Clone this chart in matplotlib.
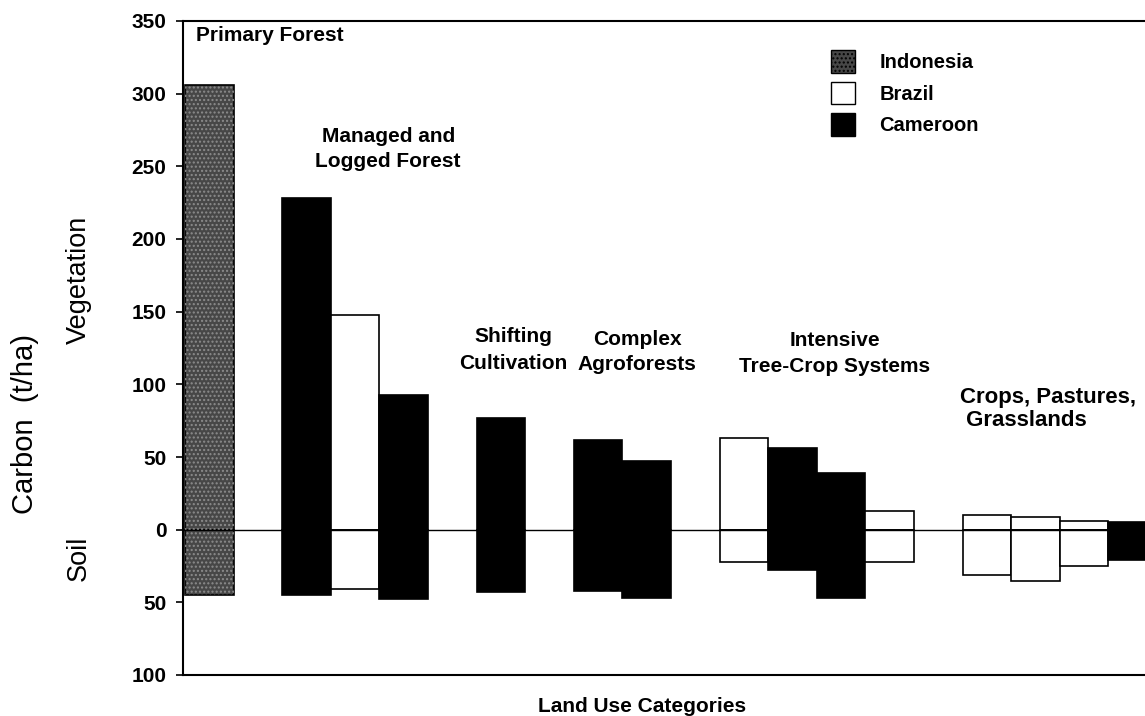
import numpy as np
import matplotlib.pyplot as plt
from matplotlib.patches import Patch

plt.rcParams['font.family'] = ['Liberation Sans', 'DejaVu Sans']

# land use groups and how many bars each one holds
groups = ['Primary Forest', 'Managed and\nLogged Forest', 'Shifting\nCultivation',
          'Complex\nAgroforests', 'Intensive\nTree-Crop Systems', 'Crops, Pastures,\n Grasslands']
group_sizes = [1, 3, 1, 2, 4, 4]

# one entry per bar, left to right
country = ['Indonesia',
           'Cameroon', 'Brazil', 'Cameroon',
           'Cameroon',
           'Cameroon', 'Cameroon',
           'Brazil', 'Cameroon', 'Cameroon', 'Brazil',
           'Brazil', 'Brazil', 'Brazil', 'Cameroon']
vegetation = [306, 228, 148, 93, 77, 62, 47, 63, 56, 39, 13, 10, 9, 6, 5]
soil = [45, 45, 41, 48, 43, 42, 47, 22, 28, 47, 22, 31, 35, 25, 21]

legend_names = ['Indonesia', 'Brazil', 'Cameroon']
colors = {'Indonesia': '#474747', 'Brazil': 'white', 'Cameroon': 'black'}

# bar positions: one empty slot between groups
pos = []
start = 0
for n in group_sizes:
    pos.extend(range(start, start + n))
    start += n + 1
pos = np.array(pos)

W, H = 1145, 716
fig = plt.figure(figsize=(W / 100, H / 100), dpi=100)
ax = fig.add_axes([183 / W, 1 - 675 / H, (1152 - 183) / W, (675 - 21) / H])

fc = [colors[c] for c in country]
grey = [i for i, c in enumerate(country) if c == 'Indonesia']
for vals in (vegetation, [-s for s in soil]):
    ax.bar(pos, vals, width=1.0, align='edge', color=fc, edgecolor='black', linewidth=1.2, zorder=2)
    # speckled look of the grey bars
    ax.bar(pos[grey], [vals[i] for i in grey], width=1.0, align='edge', facecolor='none',
           edgecolor='#8c8c8c', hatch='....', linewidth=0, zorder=2.5)
ax.axhline(0, color='black', linewidth=1.0, zorder=3)

px = 1 / 48.6
ax.set_xlim(-2 * px, (1152 - 185) * px)
ax.set_ylim(-100, 350)
ax.set_xticks([])
yt = np.arange(-100, 351, 50)
ax.set_yticks(yt)
ax.set_yticklabels([str(abs(v)) for v in yt], fontsize=15, fontweight='bold')
ax.tick_params(axis='y', direction='out', length=5, width=1.2, pad=7)
for s in ax.spines.values():
    s.set_linewidth(1.5)

# group labels
lab_x = [0.22, 4.18, 6.75, 9.3, 13.37, 15.95]
lab_y = [340, 262, 123.5, 122.5, 121, 83]
lab_ha = ['left', 'center', 'center', 'center', 'center', 'left']
lab_ls = [1.1, 1.45, 1.55, 1.4, 1.45, 1.15]
lab_fs = [15, 15, 15, 15, 15, 16]
for t, x, y, ha, ls, fs in zip(groups, lab_x, lab_y, lab_ha, lab_ls, lab_fs):
    ax.text(x, y, t, ha=ha, va='center', fontsize=fs, fontweight='bold',
            linespacing=ls)

handles = [Patch(facecolor=colors[n], edgecolor='black', label=n) for n in legend_names]
handles[0].set_hatch('....')
fig.legend(handles=handles, loc='upper left', bbox_to_anchor=(831 / W, 1 - 50 / H),
           frameon=False, prop={'weight': 'bold', 'size': 14.5},
           handlelength=1.2, handleheight=1.35, handletextpad=1.2, labelspacing=0.45,
           borderpad=0, borderaxespad=0)

fig.text(25 / W, 1 - 424 / H, 'Carbon  (t/ha)', rotation=90, ha='center', va='center', fontsize=21)
fig.text(79 / W, 1 - 280 / H, 'Vegetation', rotation=90, ha='center', va='center', fontsize=19.5)
fig.text(79 / W, 1 - 558 / H, 'Soil', rotation=90, ha='center', va='center', fontsize=19.5)
fig.text(642 / W, 1 - 706 / H, 'Land Use Categories', ha='center', va='center',
         fontsize=15, fontweight='bold')

fig.savefig('out.png', dpi=100)
